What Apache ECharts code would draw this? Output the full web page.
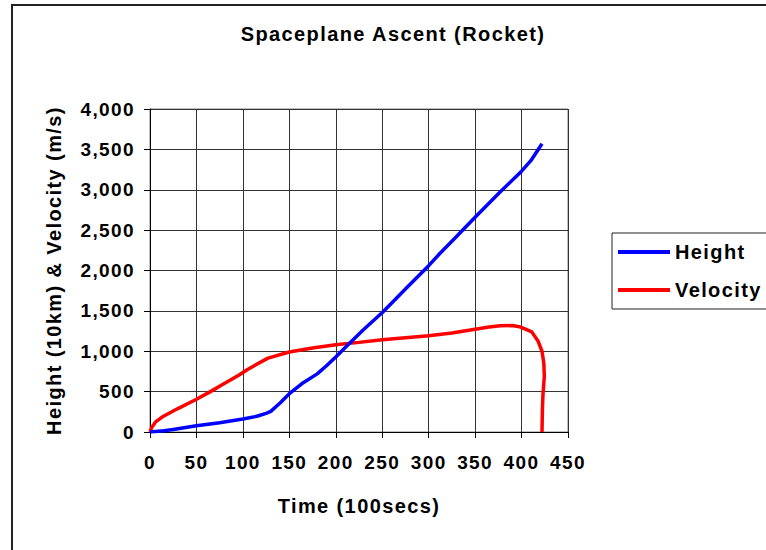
<!DOCTYPE html>
<html>
<head>
<meta charset="utf-8">
<script src="https://cdn.jsdelivr.net/npm/echarts@6/dist/echarts.min.js"></script>
<style>
  html, body { margin: 0; padding: 0; background: #fff; }
  #chart { width: 766px; height: 550px; }
  /* wide, Excel-like tracking on every label */
  #chart text { letter-spacing: 1.4px; }
</style>
</head>
<body>
<div id="chart"></div>
<script>
// Time axis in units of 100 seconds
const heightTime   = [0, 15, 25, 50, 75, 100, 115, 125, 130, 140, 150, 165, 180, 190, 200, 214, 230, 251, 275, 300, 312, 330, 350, 375, 400, 410, 422];
// Height in units of 10 km
const heightValues = [0, 15, 30, 78, 115, 160, 195, 230, 255, 360, 475, 610, 720, 820, 930, 1090, 1270, 1490, 1770, 2060, 2210, 2420, 2660, 2950, 3230, 3360, 3570];

const velocityTime   = [0, 2, 4, 6, 9, 13, 30, 50, 65, 80, 95, 105, 127, 150, 175, 200, 225, 250, 300, 325, 350, 365, 377, 390, 399, 411, 418, 422, 424, 424.5, 423, 422.5, 422];
// Velocity in m/s
const velocityValues = [0, 60, 90, 125, 150, 185, 290, 405, 500, 600, 700, 775, 915, 990, 1040, 1080, 1110, 1143, 1192, 1225, 1272, 1300, 1315, 1318, 1300, 1240, 1120, 1000, 850, 690, 450, 300, 0];

const seriesNames = ['Height', 'Velocity'];
const titleText = 'Spaceplane Ascent (Rocket)';
const xAxisTitle = 'Time (100secs)';
const yAxisTitle = 'Height (10km) & Velocity (m/s)';
const xRange = { min: 0, max: 450, step: 50 };
const yRange = { min: 0, max: 4000, step: 500 };

const FONT = "'Liberation Sans', Arial, sans-serif";
const pairs = (xs, ys) => xs.map((x, i) => [x, ys[i]]);

const chart = echarts.init(document.getElementById('chart'), null, { renderer: 'svg' });

chart.setOption({
  backgroundColor: '#ffffff',
  animation: false,
  graphic: [
    {
      type: 'rect',
      silent: true,
      shape: { x: 12, y: 5, width: 1000, height: 1000 },
      style: { fill: 'none', stroke: '#222', lineWidth: 2 }
    },
    {
      type: 'text',
      x: 393, y: 34,
      style: {
        text: titleText,
        fill: '#000',
        font: `bold 20px ${FONT}`,
        textAlign: 'center',
        textVerticalAlign: 'middle'
      }
    }
  ],
  grid: {
    left: 150, right: 198, top: 109, bottom: 118,
    show: true, borderColor: '#808080', borderWidth: 1, backgroundColor: 'transparent'
  },
  legend: {
    orient: 'vertical',
    left: 612, top: 233,
    padding: [9, 40, 9, 6],
    itemGap: 18,
    itemWidth: 52, itemHeight: 4,
    icon: 'rect',
    borderColor: '#222', borderWidth: 1,
    textStyle: { color: '#000', fontFamily: FONT, fontWeight: 'bold', fontSize: 20, lineHeight: 20 },
    data: seriesNames
  },
  xAxis: {
    type: 'value',
    min: xRange.min, max: xRange.max, interval: xRange.step,
    name: xAxisTitle,
    nameLocation: 'middle',
    nameGap: 64,
    nameTextStyle: { color: '#000', fontFamily: FONT, fontWeight: 'bold', fontSize: 20 },
    axisLine: { show: true, onZero: false, lineStyle: { color: '#000', width: 1 } },
    axisTick: { show: true, inside: false, length: 6, lineStyle: { color: '#000' } },
    axisLabel: { color: '#000', fontFamily: FONT, fontWeight: 'bold', fontSize: 19, margin: 21 },
    splitLine: { show: true, lineStyle: { color: '#333', width: 1 } }
  },
  yAxis: {
    type: 'value',
    min: yRange.min, max: yRange.max, interval: yRange.step,
    name: yAxisTitle,
    nameLocation: 'middle',
    nameGap: 86,
    nameRotate: 90,
    nameTextStyle: { color: '#000', fontFamily: FONT, fontWeight: 'bold', fontSize: 20 },
    axisLine: { show: true, lineStyle: { color: '#000', width: 1 } },
    axisTick: { show: true, inside: false, length: 6, lineStyle: { color: '#000' } },
    axisLabel: {
      color: '#000', fontFamily: FONT, fontWeight: 'bold', fontSize: 19, margin: 15,
      formatter: v => v.toLocaleString('en-US')
    },
    splitLine: { show: true, lineStyle: { color: '#333', width: 1 } }
  },
  series: [
    {
      name: seriesNames[0],
      type: 'line',
      data: pairs(heightTime, heightValues),
      showSymbol: false, symbol: 'none',
      lineStyle: { color: '#0000ff', width: 3.5 },
      itemStyle: { color: '#0000ff' },
      z: 3
    },
    {
      name: seriesNames[1],
      type: 'line',
      data: pairs(velocityTime, velocityValues),
      showSymbol: false, symbol: 'none',
      lineStyle: { color: '#ff0000', width: 3.5 },
      itemStyle: { color: '#ff0000' },
      z: 2
    }
  ]
});
</script>
</body>
</html>
